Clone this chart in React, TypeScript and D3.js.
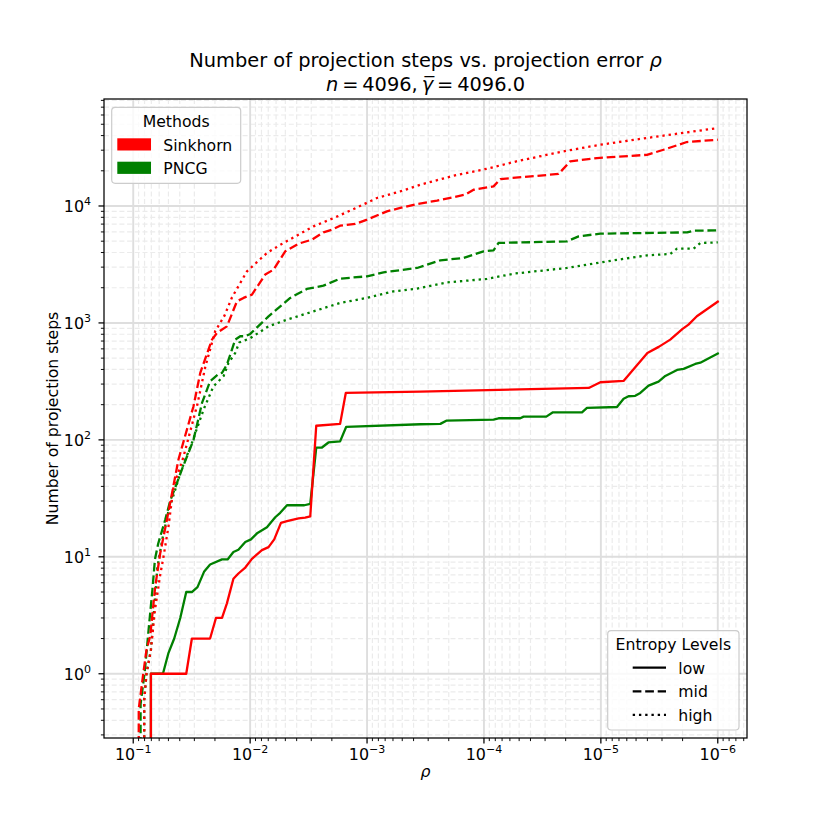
import React from "react";
import * as d3 from "d3";

const W = 830;
const H = 830;
const plot = { left: 104, right: 747, top: 99, bottom: 738 };
const FONT = "DejaVu Sans, Verdana, sans-serif";

// [projection error rho, number of projection steps]; 0 means "not yet", clipped below the axis
const sinkhornLow: [number, number][] = [
  [0.1, 0], [0.0706, 0], [0.0706, 1], [0.0352, 1], [0.0315, 2], [0.022, 2], [0.0196, 3],
  [0.0174, 3], [0.0158, 4], [0.0139, 6.5], [0.0126, 7.2], [0.011, 8.1], [0.00965, 9.6],
  [0.00793, 11.4], [0.00696, 12.1], [0.00622, 14.1], [0.00545, 19.5], [0.00484, 20.2],
  [0.00385, 21.3], [0.00338, 21.6], [0.00306, 22.2], [0.00272, 132], [0.0017, 137],
  [0.00152, 252], [3.5e-4, 259], [1.27e-5, 278], [1.01e-5, 311], [6.4e-6, 319],
  [4.0e-6, 554], [3.2e-6, 624], [2.55e-6, 720], [2.0e-6, 889], [1.78e-6, 967],
  [1.51e-6, 1140], [1e-6, 1521],
];

const sinkhornMid: [number, number][] = [
  [0.1, 0], [0.0915, 0], [0.0897, 0.5], [0.0821, 1.0], [0.077, 1.6], [0.0716, 2.1],
  [0.0648, 5.6], [0.0587, 10.8], [0.0515, 20.8], [0.041, 68], [0.0305, 194], [0.0267, 374],
  [0.0212, 720], [0.0192, 822], [0.0158, 935], [0.01297, 1530], [0.01139, 1637],
  [0.00965, 1746], [0.00743, 2590], [0.00631, 2856], [0.00501, 4095], [0.00385, 4763],
  [0.00296, 5153], [0.00236, 5953], [0.002, 6274], [0.0017, 6786], [0.00126, 7018],
  [0.001, 7640], [6.76e-4, 8997], [5.2e-4, 9615], [3.74e-4, 10400], [2.52e-4, 11100],
  [1.445e-4, 12500], [1.227e-4, 13770], [8.28e-5, 14720], [7.25e-5, 17000],
  [2.3e-5, 18790], [1.83e-5, 24060], [1.08e-5, 25700], [4.03e-6, 27400],
  [2.91e-6, 30270], [1.84e-6, 35230], [1e-6, 36870],
];

const sinkhornHigh: [number, number][] = [
  [0.1, 0], [0.0821, 0], [0.0805, 0.6], [0.077, 1.0], [0.0706, 1.6], [0.0652, 3.5],
  [0.0591, 6.8], [0.055, 10.1], [0.0499, 18.3], [0.0452, 40], [0.0374, 70], [0.0283, 200],
  [0.0242, 420], [0.0199, 850], [0.0166, 1150], [0.01431, 1650], [0.01065, 2760],
  [0.00718, 3966], [0.00518, 4830], [0.00287, 6700], [0.00193, 7890], [0.0013, 9420],
  [8.23e-4, 11700], [5.2e-4, 13330], [3.51e-4, 15200], [1.82e-4, 18150], [9.42e-5, 20840],
  [4.89e-5, 24530], [1.95e-5, 29700], [1.01e-5, 33430], [3.54e-6, 38900], [1e-6, 46400],
];

const pncgLow: [number, number][] = [
  [0.1, 0], [0.0706, 0], [0.0706, 1], [0.0557, 1], [0.0499, 1.51], [0.0446, 2.0],
  [0.0396, 3.0], [0.0352, 5.0], [0.0315, 5.0], [0.0282, 5.5], [0.0247, 7.5], [0.022, 8.6],
  [0.0174, 9.5], [0.0156, 9.5], [0.0139, 11.0], [0.0126, 11.5], [0.011, 13.4],
  [0.00984, 14.1], [0.00865, 16.0], [0.00718, 17.9], [0.0061, 21.8], [0.00553, 23.8],
  [0.00484, 27.6], [0.00344, 27.6], [0.00306, 28.4], [0.00272, 86], [0.00243, 86],
  [0.00214, 95], [0.0017, 97], [0.00151, 129], [3.5e-4, 136], [2.36e-4, 137],
  [2.1e-4, 146], [8.28e-5, 149], [7.5e-5, 153], [4.89e-5, 153], [4.58e-5, 158],
  [2.93e-5, 158], [2.57e-5, 172], [1.45e-5, 172], [1.315e-5, 188], [7.28e-6, 191],
  [6.39e-6, 225], [5.8e-6, 236], [5.08e-6, 238], [4.6e-6, 252], [3.91e-6, 291],
  [3.21e-6, 315], [2.81e-6, 352], [2.23e-6, 396], [1.96e-6, 405], [1.56e-6, 446],
  [1.41e-6, 457], [1e-6, 547],
];

const pncgMid: [number, number][] = [
  [0.1, 0], [0.0895, 0], [0.0865, 0.55], [0.0794, 1.08], [0.0734, 2.55], [0.0688, 5.0],
  [0.0652, 9.5], [0.0611, 13], [0.0532, 20.8], [0.0483, 30], [0.0383, 56], [0.0305, 100],
  [0.0258, 207], [0.022, 317], [0.0186, 366], [0.0174, 374], [0.0158, 440], [0.01431, 591],
  [0.01341, 720], [0.01216, 769], [0.01101, 769], [0.00998, 805], [0.00696, 1138],
  [0.00454, 1637], [0.00327, 1954], [0.00236, 2084], [0.0017, 2393], [0.001, 2503],
  [7.23e-4, 2706], [3.74e-4, 2951], [2.36e-4, 3430], [1.494e-4, 3597], [1.008e-4, 4095],
  [8.28e-5, 4180], [7.5e-5, 4830], [1.95e-5, 4980], [1.55e-5, 5500], [1.01e-5, 5800],
  [1.83e-6, 5945], [1.61e-6, 6150], [1e-6, 6185],
];

const pncgHigh: [number, number][] = [
  [0.1, 0], [0.0821, 0], [0.0805, 0.6], [0.077, 1.0], [0.0706, 1.6], [0.0672, 3.0],
  [0.064, 5.5], [0.0623, 8], [0.0565, 14], [0.0502, 24], [0.0437, 37.6], [0.0389, 55],
  [0.0315, 94], [0.025, 182], [0.0206, 287], [0.0169, 350], [0.0153, 455], [0.01341, 554],
  [0.0124, 680], [0.00998, 740], [0.00696, 935], [0.00484, 1067], [0.00287, 1256],
  [0.0017, 1482], [0.001, 1637], [5.93e-4, 1862], [3.74e-4, 1964], [2.07e-4, 2223],
  [9.42e-5, 2377], [5.58e-5, 2637], [1.95e-5, 2951], [8.87e-6, 3360], [4.03e-6, 3784],
  [2.55e-6, 3890], [2.23e-6, 4318], [1.61e-6, 4318], [1.41e-6, 4830], [1e-6, 4887],
];

const methods = ["Sinkhorn", "PNCG"];
const methodColors = ["#ff0000", "#008000"];
const entropyLevels = ["low", "mid", "high"];
const dashes = ["", "8.7,3.8", "2.35,3.9"];

// drawing order: PNCG under Sinkhorn
const series = [
  { method: 1, level: 0, data: pncgLow },
  { method: 1, level: 1, data: pncgMid },
  { method: 1, level: 2, data: pncgHigh },
  { method: 0, level: 0, data: sinkhornLow },
  { method: 0, level: 1, data: sinkhornMid },
  { method: 0, level: 2, data: sinkhornHigh },
];

const allPoints = series.flatMap((s) => s.data);

function logPadded(vals: number[]): [number, number] {
  const lo = Math.log10(d3.min(vals)!);
  const hi = Math.log10(d3.max(vals)!);
  const pad = (hi - lo) * 0.05;
  return [10 ** (lo - pad), 10 ** (hi + pad)];
}

const [xLo, xHi] = logPadded(allPoints.map((d) => d[0]));
const [yLo, yHi] = logPadded(allPoints.filter((d) => d[1] > 0).map((d) => d[1]));

const x = d3.scaleLog().domain([xHi, xLo]).range([plot.left, plot.right]);
const y = d3.scaleLog().domain([yLo, yHi]).range([plot.bottom, plot.top]);

function logTicks(lo: number, hi: number) {
  const major: number[] = [];
  const minor: number[] = [];
  for (let e = Math.floor(Math.log10(lo)); e <= Math.ceil(Math.log10(hi)); e++) {
    for (let m = 1; m < 10; m++) {
      const v = m * 10 ** e;
      if (v < lo || v > hi) continue;
      (m === 1 ? major : minor).push(v);
    }
  }
  return { major, minor };
}

const xt = logTicks(xLo, xHi);
const yt = logTicks(yLo, yHi);

const expOf = (v: number) => Math.round(Math.log10(v));
const supText = (e: number) => (e < 0 ? "\u2212" + -e : String(e));

const line = d3
  .line<[number, number]>()
  .x((d) => x(d[0]))
  .y((d) => y(Math.max(d[1], 1e-60)));

const THIN = "\u2009";

export default function App() {
  return (
    <svg
      width={W}
      height={H}
      style={{ display: "block", position: "absolute", left: 0, top: 0, background: "#fff" }}
      fontFamily={FONT}
    >
      <defs>
        <clipPath id="plotclip">
          <rect x={plot.left} y={plot.top} width={plot.right - plot.left} height={plot.bottom - plot.top} />
        </clipPath>
      </defs>
      <rect x={0} y={0} width={W} height={H} fill="#fff" />

      {/* grid */}
      <g>
        {xt.minor.map((v, i) => (
          <line key={"xm" + i} x1={x(v)} x2={x(v)} y1={plot.top} y2={plot.bottom} stroke="#ebebeb" strokeWidth={1.2} strokeDasharray="5,2.7" />
        ))}
        {yt.minor.map((v, i) => (
          <line key={"ym" + i} y1={y(v)} y2={y(v)} x1={plot.left} x2={plot.right} stroke="#ebebeb" strokeWidth={1.2} strokeDasharray="5,2.7" />
        ))}
        {xt.major.map((v, i) => (
          <line key={"xM" + i} x1={x(v)} x2={x(v)} y1={plot.top} y2={plot.bottom} stroke="#dedede" strokeWidth={1.9} />
        ))}
        {yt.major.map((v, i) => (
          <line key={"yM" + i} y1={y(v)} y2={y(v)} x1={plot.left} x2={plot.right} stroke="#dedede" strokeWidth={1.9} />
        ))}
      </g>

      {/* series */}
      <g clipPath="url(#plotclip)">
        {series.map((s, i) => (
          <path
            key={i}
            d={line(s.data) ?? ""}
            fill="none"
            stroke={methodColors[s.method]}
            strokeWidth={2.3}
            strokeDasharray={dashes[s.level] || undefined}
            strokeLinejoin="round"
            strokeLinecap={s.level === 0 ? "square" : "butt"}
          />
        ))}
      </g>

      {/* spines */}
      <rect x={plot.left} y={plot.top} width={plot.right - plot.left} height={plot.bottom - plot.top} fill="none" stroke="#000" strokeWidth={1.25} />

      {/* x ticks */}
      <g>
        {xt.minor.map((v, i) => (
          <line key={i} x1={x(v)} x2={x(v)} y1={plot.bottom} y2={plot.bottom + 3.1} stroke="#000" strokeWidth={0.95} />
        ))}
        {xt.major.map((v, i) => (
          <g key={i}>
            <line x1={x(v)} x2={x(v)} y1={plot.bottom} y2={plot.bottom + 5.5} stroke="#000" strokeWidth={1.25} />
            <text x={x(v)} y={759.5} textAnchor="middle" fontSize={15.9}>
              10<tspan dy={-6.6} fontSize={11}>{supText(expOf(v))}</tspan>
            </text>
          </g>
        ))}
      </g>

      {/* y ticks */}
      <g>
        {yt.minor.map((v, i) => (
          <line key={i} x1={plot.left} x2={plot.left - 3.1} y1={y(v)} y2={y(v)} stroke="#000" strokeWidth={0.95} />
        ))}
        {yt.major.map((v, i) => (
          <g key={i}>
            <line x1={plot.left} x2={plot.left - 5.5} y1={y(v)} y2={y(v)} stroke="#000" strokeWidth={1.25} />
            <text x={91} y={y(v) + 6} textAnchor="end" fontSize={15.9}>
              10<tspan dy={-6.6} fontSize={11}>{supText(expOf(v))}</tspan>
            </text>
          </g>
        ))}
      </g>

      {/* labels */}
      <text x={(plot.left + plot.right) / 2} y={777} textAnchor="middle" fontSize={15.7} fontStyle="italic">ρ</text>
      <text
        transform={`translate(58,${(plot.top + plot.bottom) / 2}) rotate(-90)`}
        textAnchor="middle"
        fontSize={15.7}
      >
        Number of projection steps
      </text>

      {/* title */}
      <text x={(plot.left + plot.right) / 2} y={67.3} textAnchor="middle" fontSize={19.4}>
        Number of projection steps vs. projection error <tspan fontStyle="italic">ρ</tspan>
      </text>
      <text x={(plot.left + plot.right) / 2} y={90.7} textAnchor="middle" fontSize={19.4}>
        <tspan fontStyle="italic">n</tspan>
        {`${THIN}=${THIN}4096,${THIN}`}
        <tspan fontStyle="italic">{"\u03b3\u0305"}</tspan>
        {`${THIN}=${THIN}4096.0`}
      </text>

      {/* legend: methods */}
      <g>
        <rect x={111.7} y={107.3} width={129} height={76} rx={3.5} fill="#fff" fillOpacity={0.8} stroke="#cccccc" strokeWidth={1.2} />
        <text x={176.2} y={126.5} textAnchor="middle" fontSize={15.7}>Methods</text>
        {methods.map((m, i) => (
          <g key={m}>
            <rect x={117.3} y={138.3 + i * 23.4} width={33.7} height={12.2} fill={methodColors[i]} />
            <text x={163.3} y={150.5 + i * 23.4} fontSize={15.7}>{m}</text>
          </g>
        ))}
      </g>

      {/* legend: entropy levels */}
      <g>
        <rect x={607.7} y={630.7} width={131.3} height={99.3} rx={3.5} fill="#fff" fillOpacity={0.8} stroke="#cccccc" strokeWidth={1.2} />
        <text x={673.3} y={649.5} textAnchor="middle" fontSize={15.7}>Entropy Levels</text>
        {entropyLevels.map((lv, i) => (
          <g key={lv}>
            <line x1={632.7} x2={666} y1={667.7 + i * 23.6} y2={667.7 + i * 23.6} stroke="#000" strokeWidth={2.3} strokeDasharray={dashes[i] || undefined} />
            <text x={678.3} y={673.5 + i * 23.6} fontSize={15.7}>{lv}</text>
          </g>
        ))}
      </g>
    </svg>
  );
}
